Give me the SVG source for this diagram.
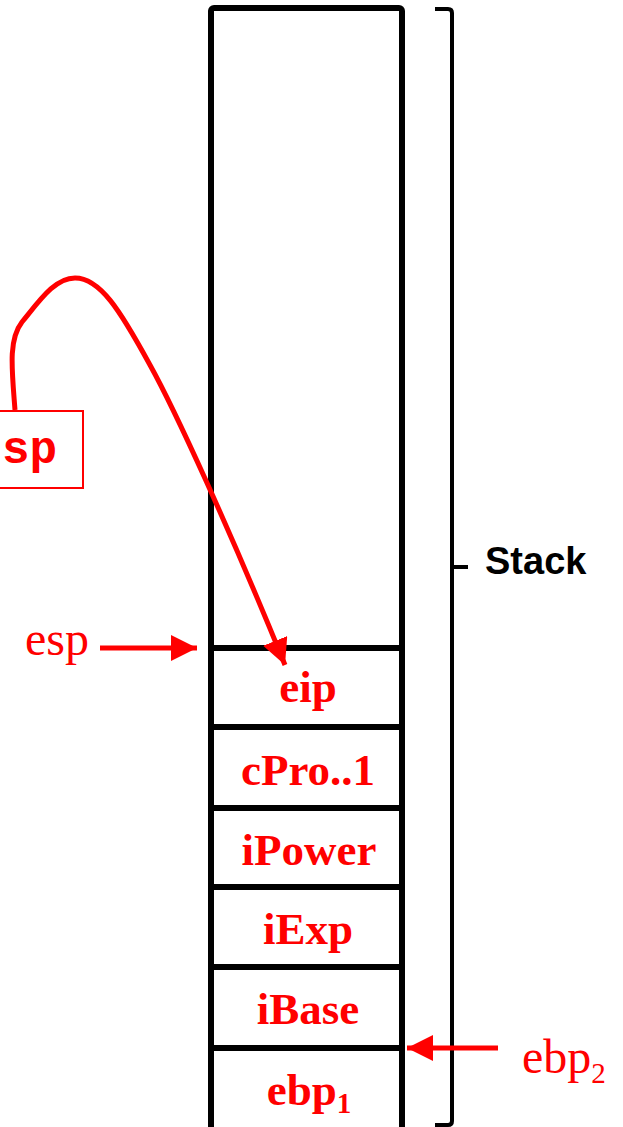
<svg xmlns="http://www.w3.org/2000/svg" width="623" height="1127" viewBox="0 0 623 1127">
<style>
.cell{fill:#ff0000;font-family:"Liberation Serif",serif;font-weight:bold;font-size:45px;text-anchor:middle}
.reg{fill:#ff0000;font-family:"Liberation Serif",serif;font-size:48px}
.blk{fill:none;stroke:#000;stroke-width:6}
.red{fill:none;stroke:#ff0000;stroke-width:5}
</style>
<defs>
<marker id="ah" markerUnits="userSpaceOnUse" markerWidth="30" markerHeight="30" refX="26" refY="13" orient="auto">
<path d="M0,0 L26,13 L0,26 Z" fill="#ff0000"/>
</marker>
</defs>
<rect width="623" height="1127" fill="#fff"/>
<g id="stack">
<rect class="blk" x="211" y="8" width="191" height="1130" rx="3"/>
<line class="blk" x1="211" y1="648" x2="402" y2="648"/>
<line class="blk" x1="211" y1="727" x2="402" y2="727"/>
<line class="blk" x1="211" y1="808" x2="402" y2="808"/>
<line class="blk" x1="211" y1="887" x2="402" y2="887"/>
<line class="blk" x1="211" y1="967" x2="402" y2="967"/>
<line class="blk" x1="211" y1="1048" x2="402" y2="1048"/>
</g>
<g id="cells">
<text class="cell" x="308" y="702">eip</text>
<text class="cell" x="308" y="785">cPro..1</text>
<text class="cell" x="309" y="865">iPower</text>
<text class="cell" x="308" y="944">iExp</text>
<text class="cell" x="308" y="1024">iBase</text>
<text class="cell" x="309" y="1105">ebp<tspan font-size="29" dy="8">1</tspan></text>
</g>
<g id="bracket">
<path d="M435,9 H448 Q452,9 452,13 V1121 Q452,1125 448,1125 H435" fill="none" stroke="#000" stroke-width="4"/>
<path d="M452,567 H468" fill="none" stroke="#000" stroke-width="4"/>
<text x="485" y="574" font-family="'Liberation Sans',sans-serif" font-weight="bold" font-size="38" fill="#000">Stack</text>
</g>
<g id="sp-box">
<rect x="-10" y="411" width="93" height="77" fill="#fff" stroke="#ff0000" stroke-width="2"/>
<text x="2" y="463" font-family="'Liberation Mono',monospace" font-weight="bold" font-size="46" fill="#ff0000">sp</text>
</g>
<g id="labels">
<text class="reg" x="25" y="655">esp</text>
<text class="reg" x="522" y="1073">ebp<tspan font-size="29" dy="10">2</tspan></text>
</g>
<g id="connectors">
<line class="red" x1="100" y1="648" x2="197" y2="648" marker-end="url(#ah)"/>
<line class="red" x1="498" y1="1048" x2="407" y2="1048" marker-end="url(#ah)"/>
<path class="red" stroke-width="4" d="M15,410 C12,370 8,340 22,322 C40,300 55,278 75,278 C100,278 120,310 150,365 C175,410 230,530 285,665" marker-end="url(#ah)"/>
</g>
</svg>
